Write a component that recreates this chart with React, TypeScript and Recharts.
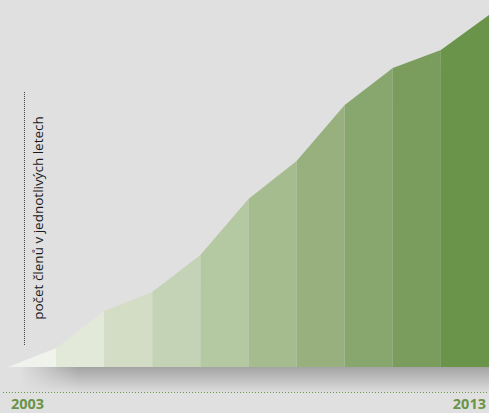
import React from "react";
import { ComposedChart, Area, XAxis, YAxis } from "recharts";

// years on the horizontal axis
const years = [2003, 2004, 2005, 2006, 2007, 2008, 2009, 2010, 2011, 2012, 2013];
// member count per year (relative units)
const members = [0, 19, 56, 75, 112, 168, 206, 262, 299, 317, 352];
// one fill per year-to-year segment, light to dark
const segmentColors = [
    "#f0f3eb", "#e2e9d8", "#d3ddc5", "#c4d3b5", "#b4c8a1",
    "#a5bc8e", "#97b07e", "#88a76e", "#7a9d5e", "#6a9449",
];
const tickYears = [2003, 2013];
const axisLabel = "počet členů v jednotlivých letech";

const W = 489;
const H = 413;
const BASE = 367;

const data = years.map((year, i) => {
    const row: Record<string, number | null> = { year };
    segmentColors.forEach((_, s) => {
        row["s" + s] = i === s || i === s + 1 ? members[i] : null;
    });
    return row;
});

function YearTick(props: any) {
    const { x, payload } = props;
    const first = payload.value === tickYears[0];
    return (
        <text
            x={first ? x + 3 : x - 3}
            y={409}
            textAnchor={first ? "start" : "end"}
            fill="#6a9448"
            fontSize={14.5}
            fontWeight="bold"
            fontFamily="'Open Sans', sans-serif"
        >
            {payload.value}
        </text>
    );
}

export default function App() {
    return (
        <div style={{ position: "fixed", left: 0, top: 0, width: W, height: H, background: "#e0e0e0", overflow: "hidden" }}>
            <svg width={W} height={H} style={{ position: "absolute", left: 0, top: 0 }}>
                <defs>
                    <linearGradient id="shadeV" x1="0" y1="0" x2="0" y2="1">
                        <stop offset="0%" stopColor="#a4a4a4" />
                        <stop offset="100%" stopColor="#dcdcdc" />
                    </linearGradient>
                    <linearGradient id="fadeH" x1="0" y1="0" x2="1" y2="0">
                        <stop offset="0%" stopColor="#fff" stopOpacity={0} />
                        <stop offset="0.04" stopColor="#fff" stopOpacity={0} />
                        <stop offset="0.16" stopColor="#fff" stopOpacity={1} />
                        <stop offset="100%" stopColor="#fff" stopOpacity={1} />
                    </linearGradient>
                    <mask id="shadeMask">
                        <rect x={0} y={BASE} width={W} height={25} fill="url(#fadeH)" />
                    </mask>
                </defs>
                <rect x={0} y={BASE} width={W} height={25} fill="url(#shadeV)" mask="url(#shadeMask)" />
                <line x1={3} y1={392.5} x2={W} y2={392.5} stroke="#6a9448" strokeWidth={1} strokeDasharray="1 2" />
                <line x1={24.5} y1={92} x2={24.5} y2={345} stroke="#444" strokeWidth={1} strokeDasharray="1 1" />
                <text
                    transform="translate(43, 218) rotate(-90)"
                    textAnchor="middle"
                    fontSize={13.5}
                    fill="#1a1a1a"
                    fontFamily="'Open Sans', sans-serif"
                >
                    {axisLabel}
                </text>
            </svg>
            <div style={{ position: "absolute", left: 0, top: 0 }}>
                <ComposedChart width={W} height={H} data={data} margin={{ top: 0, right: 0, left: 8, bottom: 0 }}>
                    <XAxis
                        dataKey="year"
                        type="number"
                        domain={[2003, 2013]}
                        ticks={tickYears}
                        height={H - BASE}
                        axisLine={false}
                        tickLine={false}
                        tick={<YearTick />}
                        interval={0}
                    />
                    <YAxis hide domain={[0, BASE]} />
                    {segmentColors.map((c, s) => (
                        <Area
                            key={s}
                            type="linear"
                            dataKey={"s" + s}
                            stroke="none"
                            fill={c}
                            fillOpacity={1}
                            connectNulls={false}
                            isAnimationActive={false}
                            dot={false}
                            activeDot={false}
                        />
                    ))}
                </ComposedChart>
            </div>
        </div>
    );
}
